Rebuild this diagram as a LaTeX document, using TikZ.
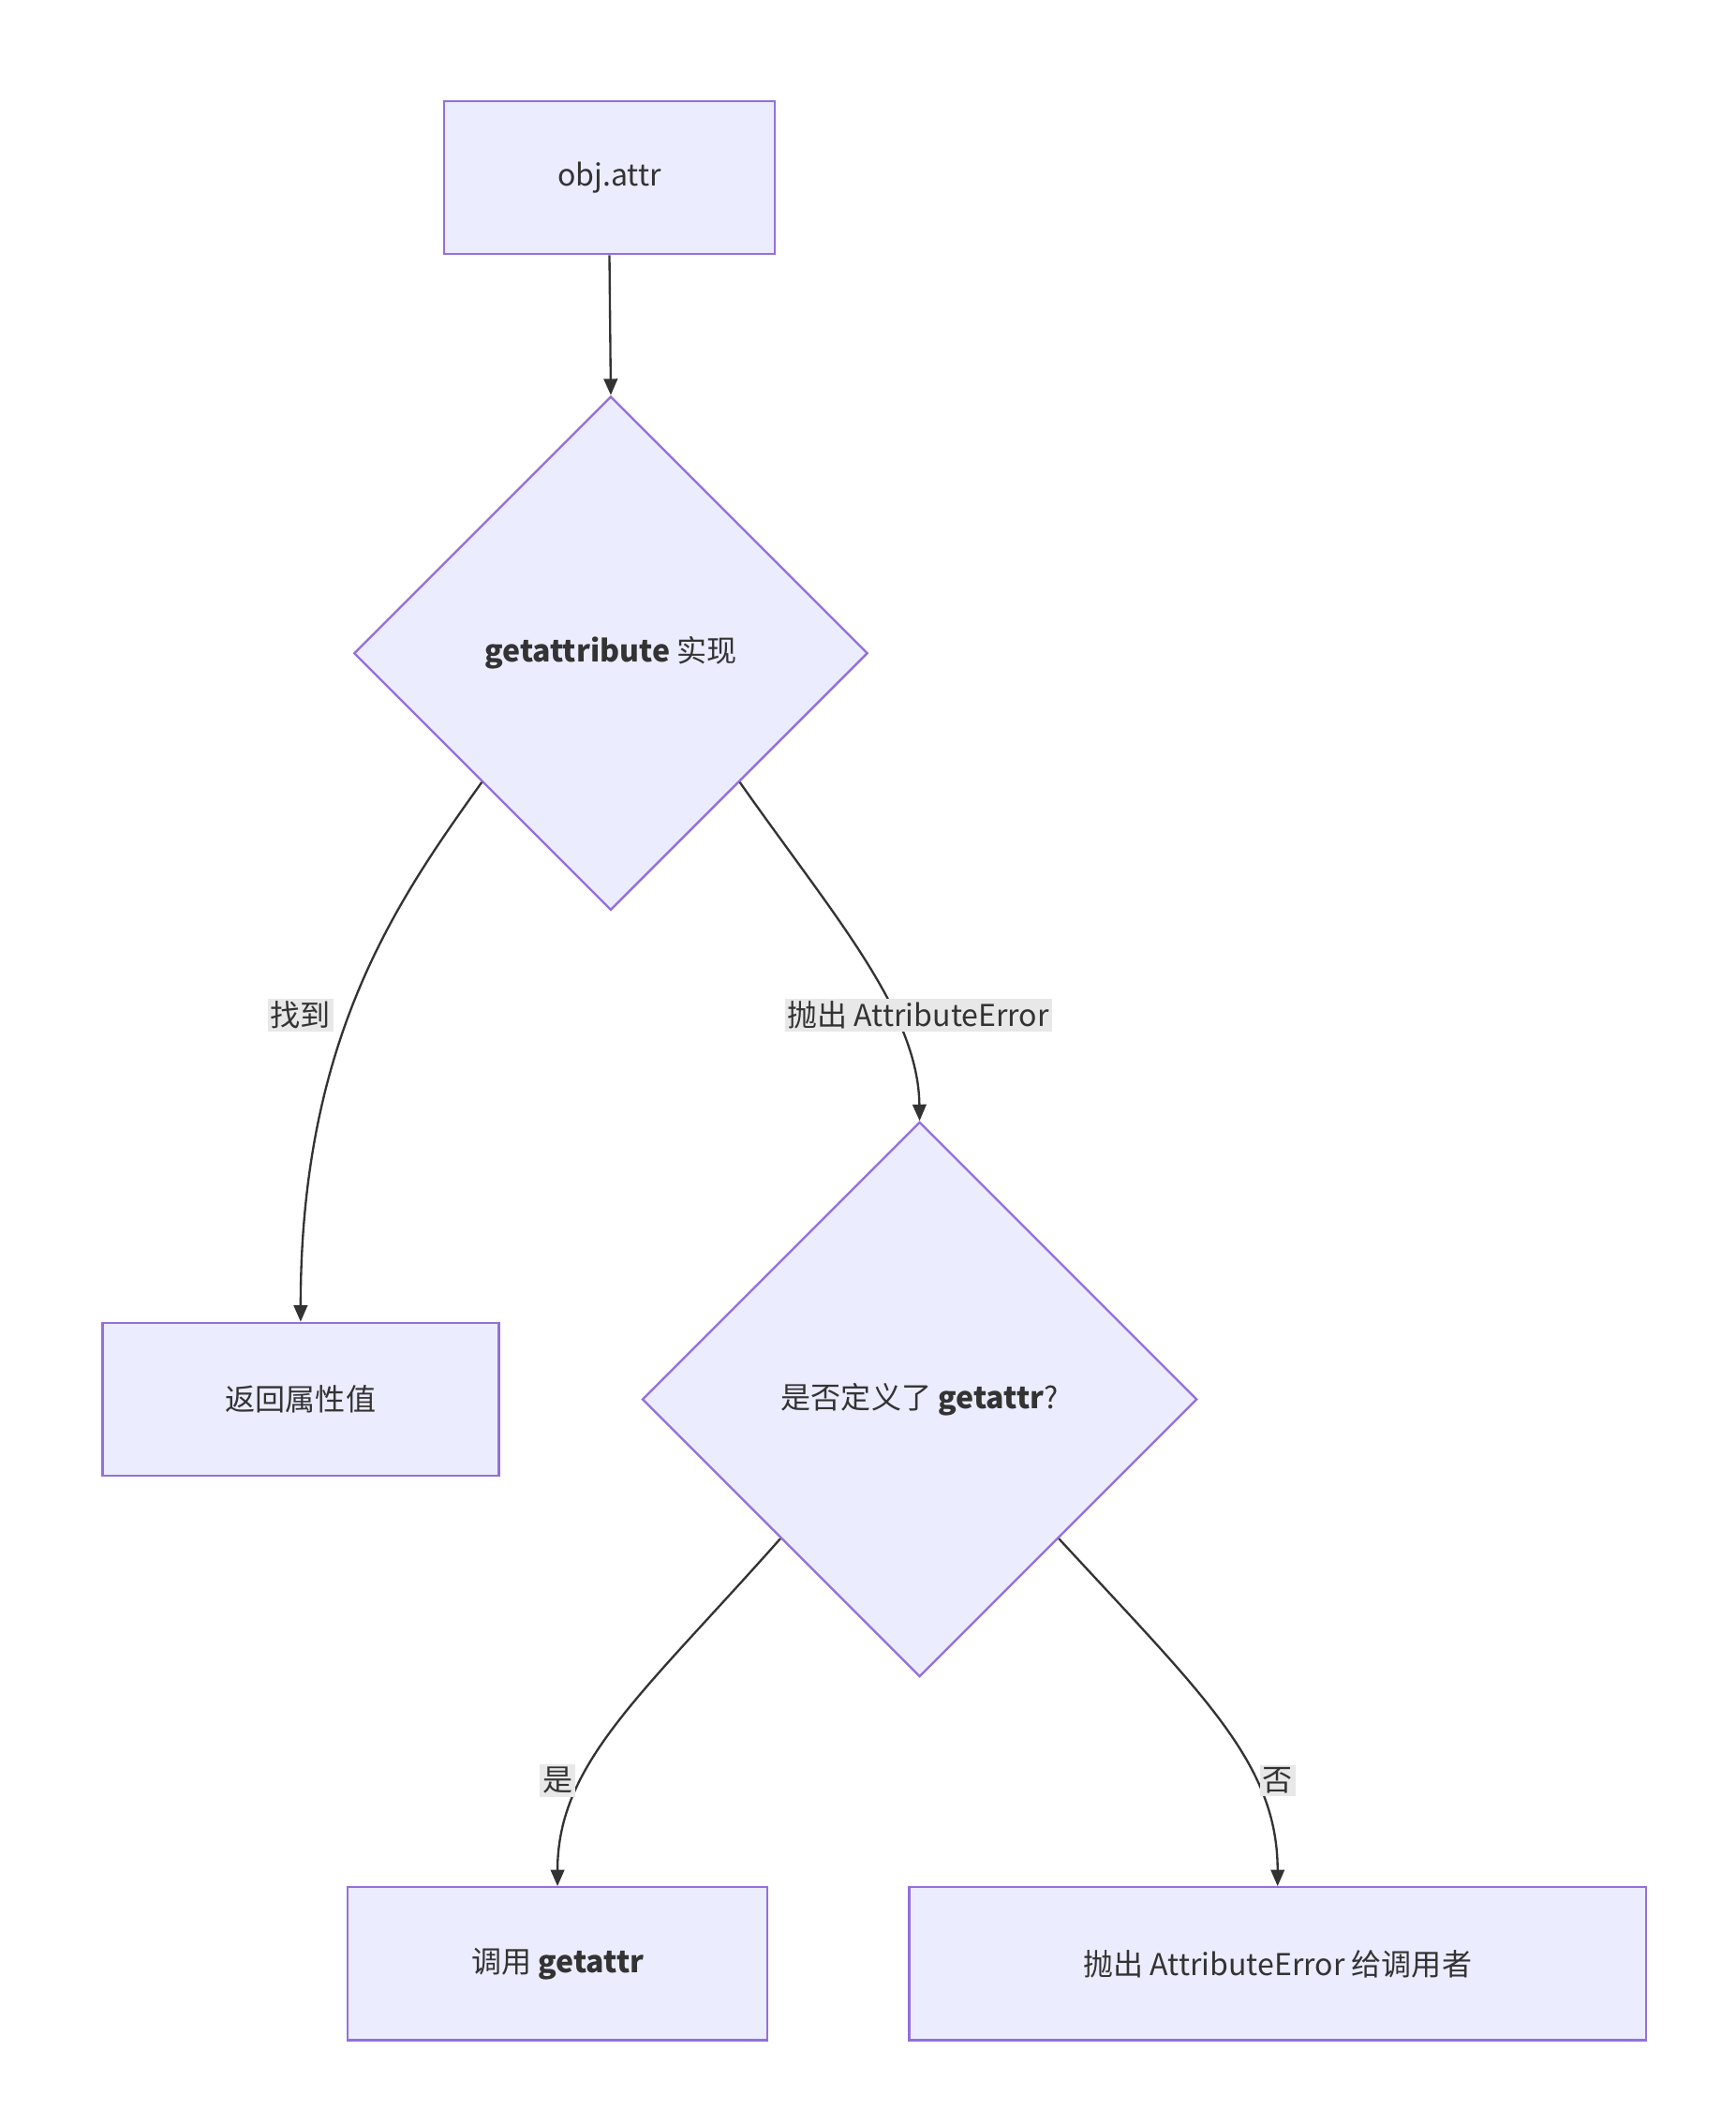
\documentclass[tikz,border=0pt]{standalone}
\usepackage{fontspec}
\setmainfont{Noto Sans CJK SC}
\usetikzlibrary{shapes.geometric,arrows.meta}
\definecolor{nfill}{HTML}{ECECFF}
\definecolor{nline}{HTML}{9370DB}
\definecolor{ed}{HTML}{333333}
\definecolor{lbl}{HTML}{E8E8E8}
\begin{document}
\begin{tikzpicture}[x=1pt,y=-1pt,
  box/.style={draw=nline,fill=nfill,line width=1.6pt,inner sep=0pt,font=\fontsize{22}{26}\selectfont,text=ed},
  dia/.style={diamond,draw=nline,fill=nfill,line width=1.6pt,inner sep=0pt,aspect=1,font=\fontsize{22}{26}\selectfont,text=ed},
  lab/.style={fill=lbl,inner sep=2pt,font=\fontsize{22}{26}\selectfont,text=ed},
  arr/.style={draw=ed,line width=1.6pt,-{Triangle[length=12pt,width=10pt]}}]
\useasboundingbox (0,0) rectangle (1270,1555);
\node[box,minimum width=242,minimum height=112] (a) at (446,130) {obj.attr};
\node[dia,minimum width=376,minimum height=376] (b) at (447,478) {\textbf{getattribute} 实现};
\node[box,minimum width=290,minimum height=112] (c) at (220,1024) {返回属性值};
\node[dia,minimum width=406,minimum height=406] (d) at (673,1024) {是否定义了 \textbf{getattr}?};
\node[box,minimum width=307,minimum height=112] (e) at (408,1437) {调用 \textbf{getattr}};
\node[box,minimum width=539,minimum height=112] (f) at (935,1437) {抛出 AttributeError 给调用者};
\draw[arr] (a.south) -- (b.north);
\draw[arr] (b.south west) .. controls (290,660) and (220,760) .. (c.north);
\draw[arr] (b.south east) .. controls (610,670) and (672,740) .. (d.north);
\draw[arr] (d.south west) .. controls (470,1240) and (408,1290) .. (e.north);
\draw[arr] (d.south east) .. controls (880,1240) and (935,1290) .. (f.north);
\node[lab] (l1) at (220,743) {找到};
\node[lab] (l2) at (672,743) {抛出 AttributeError};
\node[lab] (l3) at (408,1303) {是};
\node[lab] (l4) at (935,1303) {否};
\end{tikzpicture}
\end{document}
